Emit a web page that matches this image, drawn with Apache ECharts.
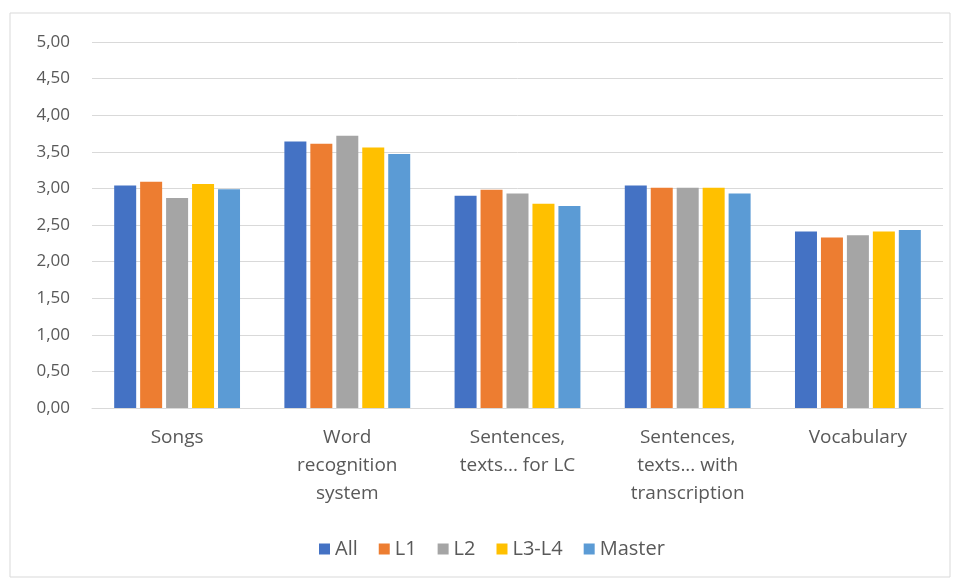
<!DOCTYPE html>
<html>
<head>
<meta charset="utf-8">
<script src="https://cdn.jsdelivr.net/npm/echarts@6/dist/echarts.min.js"></script>
<style>
  html, body { margin: 0; padding: 0; background: #fff; }
  #chart { width: 957px; height: 581px; }
</style>
</head>
<body>
<div id="chart"></div>
<script>
let categories = ['Songs', 'Word\nrecognition\nsystem', 'Sentences,\ntexts... for LC', 'Sentences,\ntexts... with\ntranscription', 'Vocabulary'];
let seriesNames = ['All', 'L1', 'L2', 'L3-L4', 'Master'];
let colors = ['#4472C4', '#ED7D31', '#A5A5A5', '#FFC000', '#5B9BD5'];
let allValues = [3.04, 3.64, 2.90, 3.04, 2.41];
let l1Values = [3.09, 3.61, 2.98, 3.01, 2.33];
let l2Values = [2.87, 3.72, 2.93, 3.01, 2.36];
let l34Values = [3.06, 3.56, 2.79, 3.01, 2.41];
let masterValues = [2.99, 3.47, 2.76, 2.93, 2.43];
let yTicks = { min: 0, max: 5, interval: 0.5 };

let myChart = echarts.init(document.getElementById('chart'));
let valueSets = [allValues, l1Values, l2Values, l34Values, masterValues];
let series = [];
for (let i = 0; i < seriesNames.length; i++) {
  series.push({
    name: seriesNames[i],
    type: 'bar',
    data: valueSets[i],
    barWidth: 22,
    barGap: '18%',
    itemStyle: { color: colors[i] }
  });
}
let option = {
  backgroundColor: '#fff',
  animation: false,
  textStyle: { fontFamily: 'Open Sans, sans-serif', color: '#595959' },
  graphic: [{
    type: 'rect',
    shape: { x: 10, y: 13, width: 940, height: 564 },
    style: { fill: 'none', stroke: '#D9D9D9', lineWidth: 1 },
    silent: true
  }],
  grid: { left: 92, right: 14, top: 42, bottom: 173 },
  legend: {
    data: seriesNames,
    bottom: 17,
    left: 314,
    itemWidth: 11,
    itemHeight: 11,
    itemGap: 21,
    icon: 'rect',
    textStyle: { fontSize: 20, color: '#595959', fontFamily: 'Open Sans, sans-serif' }
  },
  xAxis: {
    type: 'category',
    data: categories,
    axisLine: { lineStyle: { color: '#D9D9D9' } },
    axisTick: { show: false },
    axisLabel: {
      interval: 0,
      margin: 16,
      fontSize: 19,
      lineHeight: 28,
      color: '#595959',
      fontFamily: 'Open Sans, sans-serif'
    }
  },
  yAxis: {
    type: 'value',
    min: yTicks.min,
    max: yTicks.max,
    interval: yTicks.interval,
    axisLine: { show: false },
    axisTick: { show: false },
    splitLine: { lineStyle: { color: '#D9D9D9' } },
    axisLabel: {
      fontSize: 17,
      margin: 22,
      color: '#595959',
      fontFamily: 'Open Sans, sans-serif',
      formatter: function (value) {
        return value.toFixed(2).replace('.', ',');
      }
    }
  },
  series: series
};
myChart.setOption(option);
</script>
</body>
</html>
